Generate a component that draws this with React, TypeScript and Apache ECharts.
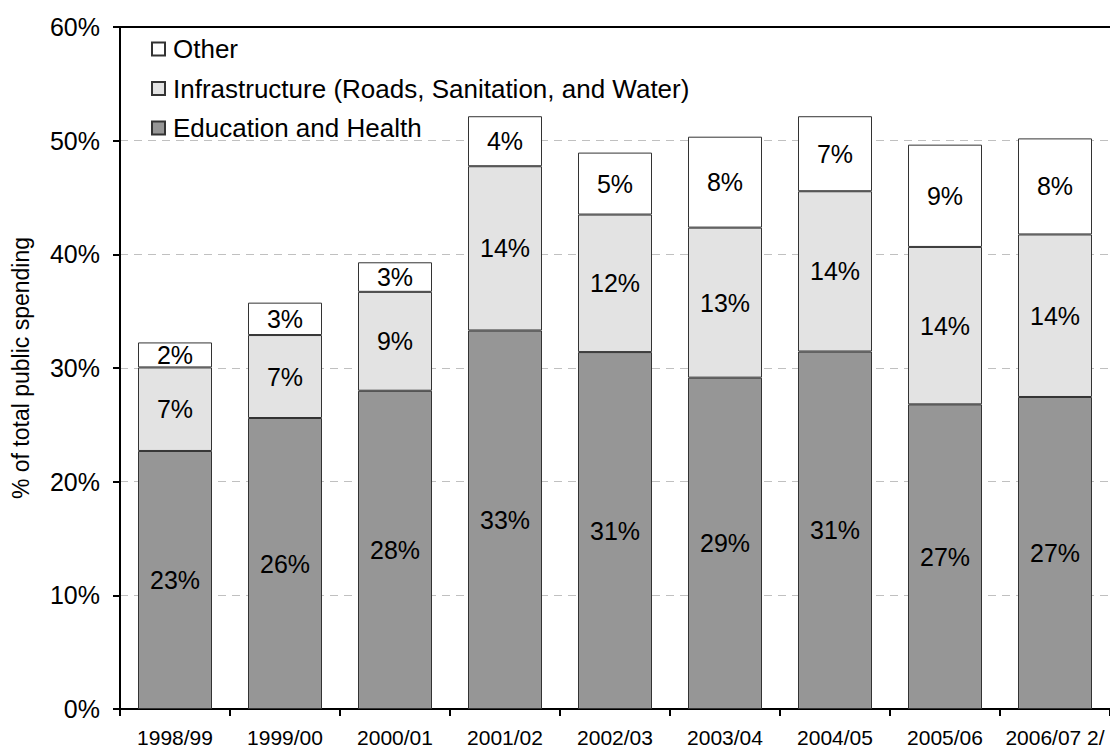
import React, { useEffect, useRef } from "react";
import * as echarts from "echarts";

const categories = ["1998/99", "1999/00", "2000/01", "2001/02", "2002/03", "2003/04", "2004/05", "2005/06", "2006/07 2/"];
const eduHealth = [22.7, 25.6, 28.0, 33.3, 31.4, 29.15, 31.45, 26.8, 27.45];
const infrastructure = [7.35, 7.3, 8.7, 14.45, 12.1, 13.2, 14.1, 13.85, 14.3];
const other = [2.2, 2.85, 2.6, 4.4, 5.45, 8.0, 6.6, 9.0, 8.45];
const seriesNames = ["Education and Health", "Infrastructure (Roads, Sanitation, and Water)", "Other"];

const FONT = "'Liberation Sans', Arial, sans-serif";

export default function App() {
  const ref = useRef<HTMLDivElement>(null);
  useEffect(() => {
    if (!ref.current) return;
    const chart = echarts.init(ref.current, null, { renderer: "svg" });
    const label = {
      show: true,
      position: "inside",
      color: "#000",
      fontSize: 25,
      fontFamily: FONT,
      formatter: (p: any) => Math.round(p.value) + "%",
    };
    const border = { borderColor: "#333", borderWidth: 1 };
    chart.setOption({
      animation: false,
      textStyle: { fontFamily: FONT, color: "#000" },
      grid: { left: 120, top: 27, bottom: 38, right: 0, containLabel: false },
      legend: {
        data: [seriesNames[2], seriesNames[1], seriesNames[0]],
        orient: "vertical",
        left: 146,
        top: 31,
        itemWidth: 13,
        itemHeight: 13,
        itemGap: 13.5,
        icon: "rect",
        textStyle: { fontSize: 26, color: "#000", fontFamily: FONT, padding: [0, 0, 0, 3] },
      },
      xAxis: [
        {
          type: "category",
          data: categories,
          axisLine: { lineStyle: { color: "#000", width: 2 } },
          axisTick: { show: true, interval: 0, length: 7, lineStyle: { color: "#000", width: 2 } },
          axisLabel: { interval: 0, fontSize: 21, color: "#000", margin: 18, fontFamily: FONT },
        },
        {
          type: "category",
          data: categories,
          position: "top",
          axisLine: { lineStyle: { color: "#000", width: 2 } },
          axisTick: { show: false },
          axisLabel: { show: false },
        },
      ],
      yAxis: {
        type: "value",
        min: 0,
        max: 60,
        interval: 10,
        name: "% of total public spending",
        nameLocation: "middle",
        nameRotate: 90,
        nameGap: 88,
        nameTextStyle: { fontSize: 23, color: "#000", fontFamily: FONT },
        axisLine: { show: true, lineStyle: { color: "#000", width: 2 } },
        axisTick: { show: true, length: 7, lineStyle: { color: "#000", width: 2 } },
        axisLabel: { formatter: "{value}%", fontSize: 25, color: "#000", margin: 20, fontFamily: FONT },
        splitLine: { show: true, lineStyle: { color: "#c0c0c0", type: [8, 6], width: 1 } },
      },
      series: [
        {
          name: seriesNames[0],
          type: "bar",
          stack: "total",
          barWidth: 74,
          data: eduHealth,
          itemStyle: { color: "#969696", ...border },
          label,
        },
        {
          name: seriesNames[1],
          type: "bar",
          stack: "total",
          barWidth: 74,
          data: infrastructure,
          itemStyle: { color: "#e3e3e3", ...border },
          label,
        },
        {
          name: seriesNames[2],
          type: "bar",
          stack: "total",
          barWidth: 74,
          data: other,
          itemStyle: { color: "#ffffff", ...border },
          label,
        },
      ],
    });
    return () => chart.dispose();
  }, []);
  return (
    <div
      ref={ref}
      style={{ position: "fixed", left: 0, top: 0, width: 1110, height: 748, background: "#fff" }}
    />
  );
}
